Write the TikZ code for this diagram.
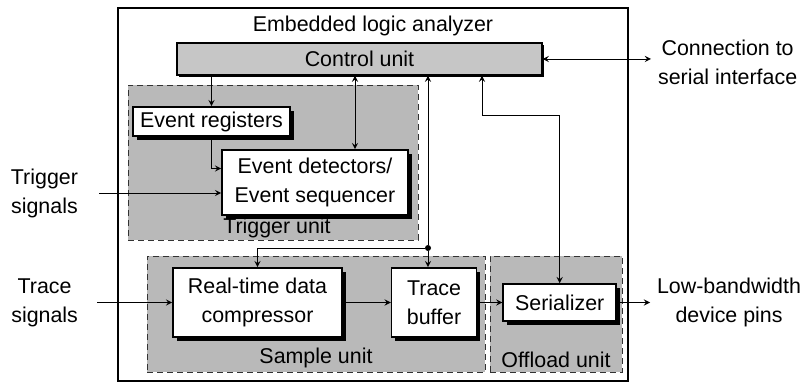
\documentclass[tikz,border=0pt]{standalone}
\usepackage{fontspec}
\setmainfont{Liberation Sans}
\usetikzlibrary{arrows, positioning, shadows}

\begin{document}
\begin{tikzpicture}[
  x=0.5pt, y=-0.5pt,
  font=\fontsize{10.7}{14.5}\selectfont,
  unit/.style={rectangle, draw=black!80, densely dashed, fill=gray!55, inner sep=0pt},
  unitname/.style={inner sep=1pt},
  ctrl/.style={rectangle, draw=black, semithick, fill=gray!45, inner sep=0pt, drop shadow={shadow xshift=1.2pt, shadow yshift=-1.2pt, fill=black, opacity=1}},
  box/.style={rectangle, draw=black, thick, fill=white, align=center, inner sep=0pt, drop shadow={shadow xshift=1.8pt, shadow yshift=-1.8pt, fill=black, opacity=1}},
  sig/.style={align=center},
  arrow/.style={thin, ->, >=stealth}
]
\useasboundingbox (0,0) rectangle (805,385);

% analyzer frame and units
\node (ela) [draw, semithick, minimum width=255pt, minimum height=186.5pt] at (373,194.5) {};
\node (title) [below=1pt of ela.north] {Embedded logic analyzer};
\node (trigger) [unit, minimum width=145pt, minimum height=77.5pt] at (273,162.5) {};
\node (sample) [unit, minimum width=169pt, minimum height=58pt] at (316,314) {};
\node (offload) [unit, minimum width=66pt, minimum height=58pt] at (556,314) {};
\node [unitname, above=0pt of trigger.south, xshift=2pt] {Trigger unit};
\node [unitname, above=1pt of sample.south] {Sample unit};
\node [unitname, above=1pt of offload.south] {Offload unit};

% blocks
\node (control) [ctrl, minimum width=182.5pt, minimum height=16pt] at (359.5,59) {Control unit};
\node (evreg) [box, minimum width=78.5pt, minimum height=14.5pt] at (211.5,121.5) {Event registers};
\node (evdet) [box, minimum width=93pt, minimum height=32.5pt] at (315,182.5) {Event detectors/\\Event sequencer};
\node (compressor) [box, minimum width=84.5pt, minimum height=34.5pt] at (257.5,302.5) {Real-time data\\compressor};
\node (buffer) [box, minimum width=42.5pt, minimum height=34.5pt, right=24pt of compressor] {Trace\\buffer};
\node (serializer) [box, minimum width=56.5pt, minimum height=18.5pt, right=12.5pt of buffer] {Serializer};

% outside signals
\node (trig) [sig, anchor=east] at (85,193) {Trigger\\signals};
\node (trace) [sig, anchor=east] at (85,302.5) {Trace\\signals};
\node (conn) [sig, anchor=west] at (651,62) {Connection to\\serial interface};
\node (pins) [sig, anchor=west] at (650,302.5) {Low-bandwidth\\device pins};

% connectors
\node (bus) [circle, fill=black, inner sep=0pt, minimum size=3pt] at (428,248) {};
\coordinate (detlink) at ([xshift=20pt]evdet.north);
\coordinate (serbend) at (482,115);

\draw [arrow] (control.south -| evreg.north) -- (evreg.north);
\draw [arrow] (evreg.south) |- ([yshift=7pt]evdet.west);
\draw [arrow, <->] (detlink) -- (detlink |- control.south);
\draw [arrow] (bus) -- (bus |- control.south);
\draw [arrow] (bus) -- (bus |- buffer.north);
\draw [arrow] (bus) -| (compressor.north);
\draw [arrow, <->] (serbend |- control.south) -- (serbend) -| (serializer.north);
\draw [arrow, <->] (control.east) -- (control.east -| conn.west);
\draw [arrow, shorten <=7pt] (trig.east) -- (trig.east -| evdet.west);
\draw [arrow, shorten <=6pt] (trace.east) -- (compressor.west);
\draw [arrow] (compressor) -- (buffer);
\draw [arrow] (buffer) -- (serializer);
\draw [arrow] (serializer.east) -- (serializer.east -| pins.west);

\end{tikzpicture}
\end{document}
